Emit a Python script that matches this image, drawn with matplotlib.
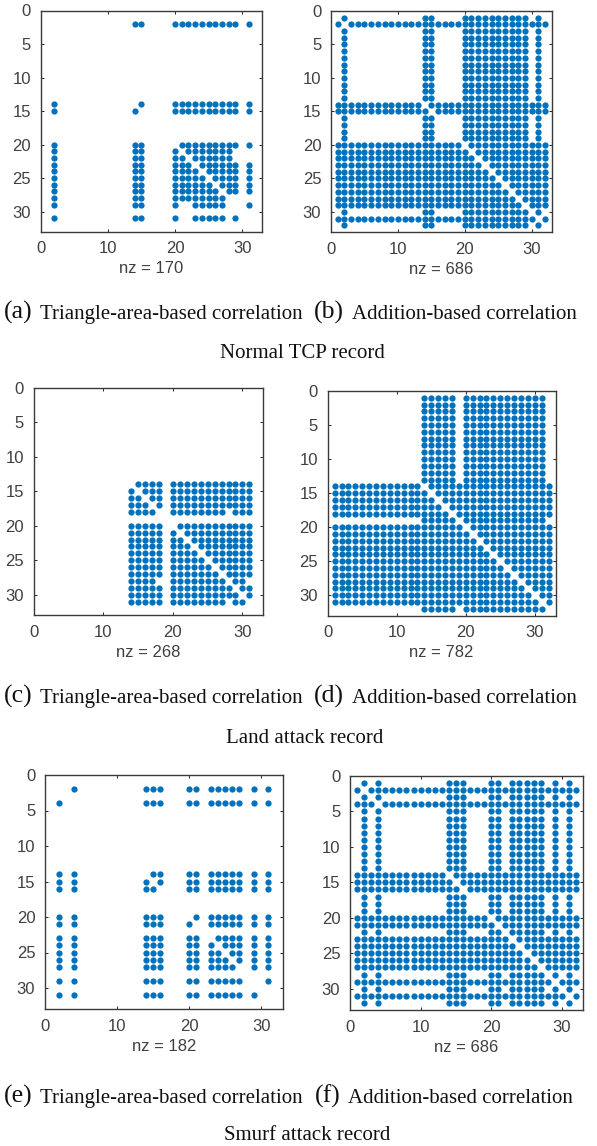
import matplotlib
matplotlib.use("Agg")
import matplotlib.pyplot as plt

# spy patterns: ("rows", "columns"), a-b means a range
panel_a = [
    ("2", "14 15 20-29 31"),
    ("14", "2 15 20-29 31"),
    ("15", "2 14 20-29 31"),
    ("20", "2 14 15 21-29 31"),
    ("21", "2 14 15 20 22-28"),
    ("22", "2 14 15 20 21 23-28"),
    ("23", "2 14 15 20-22 24-29 31"),
    ("24", "2 14 15 20-23 25-29 31"),
    ("25", "2 14 15 20-24 26-29 31"),
    ("26", "2 14 15 20-25 27-29 31"),
    ("27", "2 14 15 20-26 28 29 31"),
    ("28", "2 14 15 20-27"),
    ("29", "2 14 15 20 23-27 31"),
    ("31", "2 14 15 20 23-27 29"),
]
panel_b = [
    ("1 3-13 16-19 30 32", "2 14 15 20-29 31"),
    ("2", "1 3-32"),
    ("14", "1-13 15-32"),
    ("15", "1-14 16-32"),
    ("20", "1-19 21-32"),
    ("21", "1-20 22-32"),
    ("22", "1-21 23-32"),
    ("23", "1-22 24-32"),
    ("24", "1-23 25-32"),
    ("25", "1-24 26-32"),
    ("26", "1-25 27-32"),
    ("27", "1-26 28-32"),
    ("28", "1-27 29-32"),
    ("29", "1-28 30-32"),
    ("31", "1-30 32"),
]
panel_c = [
    ("14", "15-18 20-31"),
    ("15", "14 16-18 20-31"),
    ("16", "14 15 17 18 20-31"),
    ("17", "14-16 18 20-31"),
    ("18", "14-17 20-27 29-31"),
    ("20", "14-18 21-31"),
    ("21", "14-18 20 22-31"),
    ("22", "14-18 20 21 23-31"),
    ("23", "14-18 20-22 24-31"),
    ("24", "14-18 20-23 25-31"),
    ("25", "14-18 20-24 26-31"),
    ("26", "14-18 20-25 27-31"),
    ("27", "14-18 20-26 28-31"),
    ("28", "14-17 20-27 29 30"),
    ("29", "14-18 20-28 30 31"),
    ("30", "14-18 20-29 31"),
    ("31", "14-18 20-27 29 30"),
]
panel_d = [
    ("1-13 19 32", "14-18 20-31"),
    ("14", "1-13 15-32"),
    ("15", "1-14 16-32"),
    ("16", "1-15 17-32"),
    ("17", "1-16 18-32"),
    ("18", "1-17 19-32"),
    ("20", "1-19 21-32"),
    ("21", "1-20 22-32"),
    ("22", "1-21 23-32"),
    ("23", "1-22 24-32"),
    ("24", "1-23 25-32"),
    ("25", "1-24 26-32"),
    ("26", "1-25 27-32"),
    ("27", "1-26 28-32"),
    ("28", "1-27 29-32"),
    ("29", "1-28 30-32"),
    ("30", "1-29 31 32"),
    ("31", "1-30 32"),
]
panel_e = [
    ("2", "4 14-16 20 21 23-27 29 31"),
    ("4", "2 14-16 20 21 23-27 29 31"),
    ("14", "2 4 15 16 20 21 23-27 29 31"),
    ("15", "2 4 14 16 20 21 23-27 29 31"),
    ("16", "2 4 14 15 20 21 23-27 29 31"),
    ("20", "2 4 14-16 21 23-27 29 31"),
    ("21", "2 4 14-16 20 23-27 29 31"),
    ("23", "2 4 14-16 20 21 24-27 29 31"),
    ("24", "2 4 14-16 20 21 23 25-27 29 31"),
    ("25", "2 4 14-16 20 21 23 24 26 27 29 31"),
    ("26", "2 4 14-16 20 21 23-25 27 29 31"),
    ("27", "2 4 14-16 20 21 23-26 29 31"),
    ("29", "2 4 14-16 20 21 23-27 31"),
    ("31", "2 4 14-16 20 21 23-27 29"),
]
panel_f = [
    ("1 3 5-13 17-19 22 28 30 32", "2 4 14-16 20 21 23-27 29 31"),
    ("2", "1 3-32"),
    ("4", "1-3 5-32"),
    ("14", "1-13 15-32"),
    ("15", "1-14 16-32"),
    ("16", "1-15 17-32"),
    ("20", "1-19 21-32"),
    ("21", "1-20 22-32"),
    ("23", "1-22 24-32"),
    ("24", "1-23 25-32"),
    ("25", "1-24 26-32"),
    ("26", "1-25 27-32"),
    ("27", "1-26 28-32"),
    ("29", "1-28 30-32"),
    ("31", "1-30 32"),
]

nz_labels = ["nz = 170", "nz = 686", "nz = 268", "nz = 782", "nz = 182", "nz = 686"]
letters = ["(a)", "(b)", "(c)", "(d)", "(e)", "(f)"]
captions = ["Triangle-area-based correlation", "Addition-based correlation"] * 3
records = ["Normal TCP record", "Land attack record", "Smurf attack record"]

W, H = 597, 1146
DOT = "#0072BD"
GREY = "#404040"

# axes frames in pixels: left, right, top, bottom
frames = [
    (40.7, 262.3, 10.5, 231.7),
    (331, 551.7, 11, 232),
    (33.7, 263.3, 388, 615.3),
    (327.7, 555.5, 391, 615.7),
    (45, 282.7, 775, 1009.3),
    (350, 583, 776, 1010),
]
# caption positions: letter x, text x, baseline y
caption_pos = [
    (4, 40, 319), (314, 352, 319),
    (4, 40, 703), (314, 352, 703),
    (4, 40, 1103), (315, 348, 1103),
]
record_pos = [(302, 358), (305, 743), (307, 1140)]


def expand(spec):
    out = []
    for part in spec.split():
        if "-" in part:
            a, b = part.split("-")
            out.extend(range(int(a), int(b) + 1))
        else:
            out.append(int(part))
    return out


def points(panel):
    xs, ys = [], []
    for rows, cols in panel:
        for r in expand(rows):
            for c in expand(cols):
                xs.append(c)
                ys.append(r)
    return xs, ys


plt.rcParams["font.family"] = ["Liberation Sans", "DejaVu Sans"]
fig = plt.figure(figsize=(W / 100, H / 100), dpi=100)

panels = [panel_a, panel_b, panel_c, panel_d, panel_e, panel_f]
for i, panel in enumerate(panels):
    left, right, top, bottom = frames[i]
    ax = fig.add_axes([left / W, 1 - bottom / H, (right - left) / W, (bottom - top) / H])
    xs, ys = points(panel)
    ax.plot(xs, ys, "o", color=DOT, ms=4.5, mew=0, clip_on=False)
    ax.set_xlim(0, 33)
    ax.set_ylim(33, 0)
    ax.set_xticks([0, 10, 20, 30])
    ax.set_yticks([0, 5, 10, 15, 20, 25, 30])
    ax.tick_params(direction="in", length=2, width=0.7, color="#262626", labelcolor=GREY,
                   labelsize=12, top=True, right=True)
    ax.tick_params(axis="x", pad=7)
    ax.tick_params(axis="y", pad=7)
    for s in ax.spines.values():
        s.set_color("#3a3a3a")
        s.set_linewidth(1.0)
    ax.set_xlabel(nz_labels[i], fontsize=12, color=GREY, labelpad=3.5)

    lx, tx, by = caption_pos[i]
    fig.text(lx / W, 1 - by / H, letters[i], family="Liberation Serif", fontsize=18.5, color="#111111")
    fig.text(tx / W, 1 - by / H, captions[i], family="Liberation Serif", fontsize=15, color="#111111")

for rec, (x, y) in zip(records, record_pos):
    fig.text(x / W, 1 - y / H, rec, family="Liberation Serif", fontsize=15, color="#111111", ha="center")

fig.savefig("out.png", dpi=100)
